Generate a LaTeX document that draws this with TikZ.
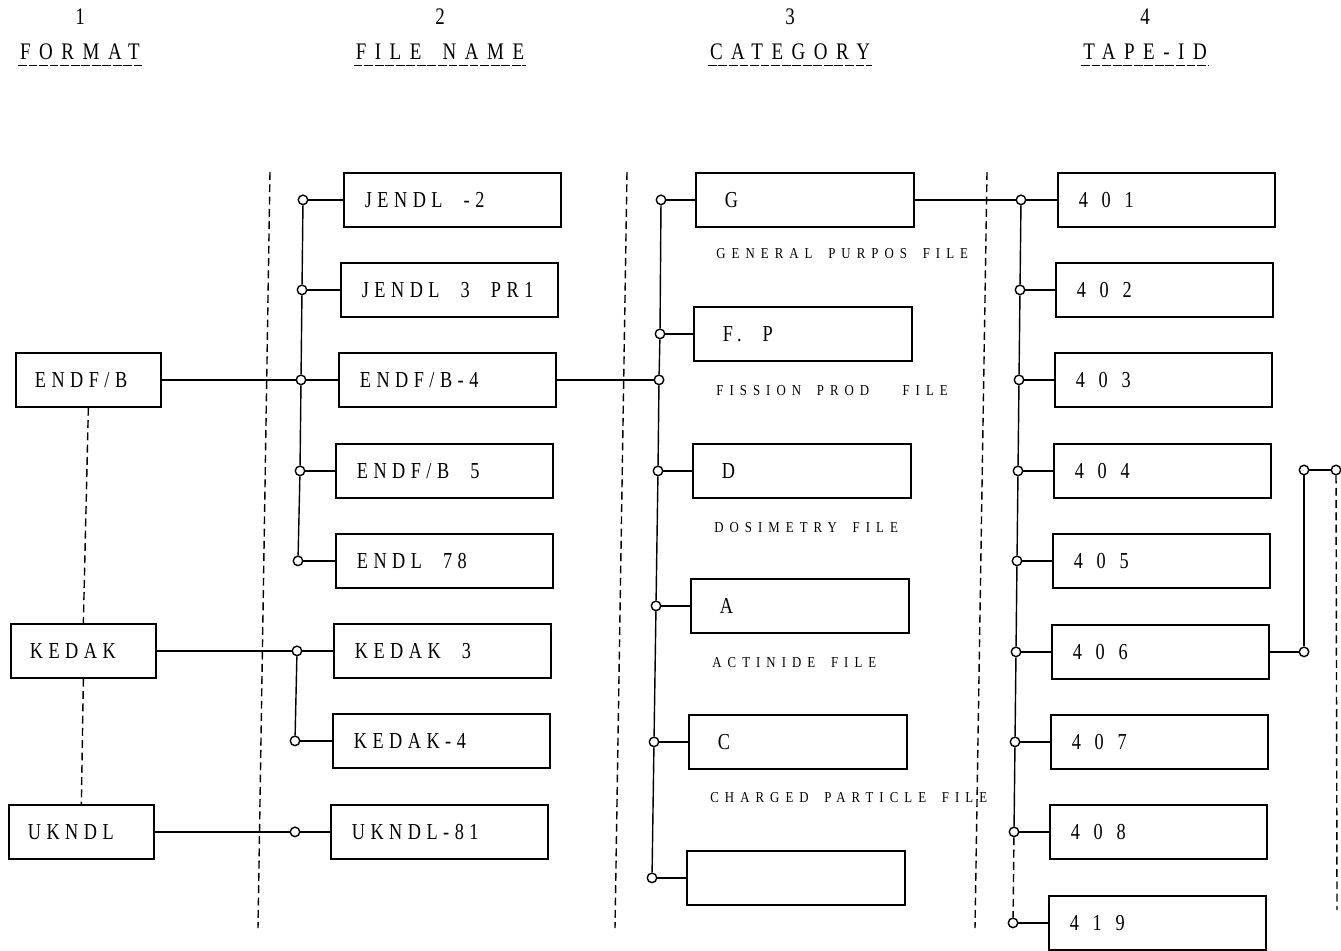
\documentclass[tikz,border=0pt]{standalone}
\usepackage{fontspec}
\setmainfont{Liberation Serif}
\newfontfamily\boxfont[FakeStretch=0.8,LetterSpace=24,WordSpace=2.1]{Liberation Serif}
\newfontfamily\numfont[FakeStretch=0.8,LetterSpace=60]{Liberation Serif}
\newfontfamily\capfont[FakeStretch=0.85,LetterSpace=40,WordSpace=1.7]{Liberation Serif}
\newfontfamily\headfont[FakeStretch=0.8,LetterSpace=36,WordSpace=1.6]{Liberation Serif}
\tikzset{
  fmtbox/.style={draw,line width=1pt,anchor=north west,minimum height=1.08cm,inner xsep=0.38cm,
    execute at begin node={\hbox to 2.14cm\bgroup},execute at end node={\hss\egroup},
    font=\boxfont\fontsize{13}{15}\selectfont},
  namebox/.style={draw,line width=1pt,anchor=north west,minimum height=1.08cm,inner xsep=0.42cm,
    execute at begin node={\hbox to 3.5cm\bgroup},execute at end node={\hss\egroup},
    font=\boxfont\fontsize{13}{15}\selectfont},
  catbox/.style={draw,line width=1pt,anchor=north west,minimum height=1.08cm,inner xsep=0.58cm,
    execute at begin node={\hbox to 3.2cm\bgroup},execute at end node={\hss\egroup},
    font=\boxfont\fontsize{13}{15}\selectfont},
  tapebox/.style={namebox,font=\numfont\fontsize{13}{15}\selectfont},
  catlabel/.style={anchor=west,inner sep=0pt,font=\capfont\fontsize{8.6}{10}\selectfont},
  head/.style={inner sep=1pt,font=\headfont\fontsize{13.5}{15}\selectfont},
  dot/.style={circle,draw,line width=0.8pt,fill=white,inner sep=0pt,minimum size=0.19cm},
  link/.style={line width=0.8pt},
  sepline/.style={line width=0.8pt,dash pattern=on 4.5pt off 2.5pt},
  underl/.style={line width=0.9pt,dash pattern=on 5pt off 1pt}
}
\begin{document}
\begin{tikzpicture}[x=0.02cm,y=-0.02cm]
\useasboundingbox (0,0) rectangle (1341,950);
% column heads
\foreach \n/\x/\t in {1/80/FORMAT,2/440/FILE NAME,3/790/CATEGORY,4/1145/TAPE-ID}{
  \node[head] (k\n) at (\x,17) {\n};
  \node[head] (h\n) at (\x,52) {\t};
  \draw[underl] ([yshift=-2pt]h\n.south west) -- ([yshift=-2pt]h\n.south east);
}
% separators
\draw[sepline] (270,172) -- (258,928);
\draw[sepline] (627,172) -- (615,928);
\draw[sepline] (987,172) -- (975,928);
% format
\node[fmtbox] (f1) at (15,352) {ENDF/B};
\node[fmtbox] (f2) at (10,623) {KEDAK};
\node[fmtbox] (f3) at (8,804) {UKNDL};
\draw[sepline] (f1.south) -- (f2.north);
\draw[sepline] (f2.south) -- (f3.north);
% file names
\node[namebox] (n1) at (343,172) {JENDL -2};
\node[namebox] (n2) at (340,262) {JENDL 3 PR1};
\node[namebox] (n3) at (338,352) {ENDF/B-4};
\node[namebox] (n4) at (335,443) {ENDF/B 5};
\node[namebox] (n5) at (335,533) {ENDL 78};
\node[namebox] (n6) at (333,623) {KEDAK 3};
\node[namebox] (n7) at (332,713) {KEDAK-4};
\node[namebox] (n8) at (330,804) {UKNDL-81};
\foreach \i/\x in {1/303,2/302,3/301,4/300,5/298,6/297,7/295,8/295}{
  \node[dot] (p\i) at (\x,0 |- n\i.west) {};
  \draw[link] (p\i) -- (n\i);
}
\draw[link] (p1) -- (p2) -- (p3) -- (p4) -- (p5);
\draw[link] (p6) -- (p7);
\draw[link] (f1) -- (p3);
\draw[link] (f2) -- (p6);
\draw[link] (f3) -- (p8);
% category
\node[catbox] (c1) at (695,172) {G};
\node[catbox] (c2) at (693,306) {F. P};
\node[catbox] (c3) at (692,443) {D};
\node[catbox] (c4) at (690,578) {A};
\node[catbox] (c5) at (688,714) {C};
\node[catbox] (c6) at (686,850) {};
\node[catlabel] (l1) at (716,254) {GENERAL PURPOS FILE};
\node[catlabel] (l2) at (716,391) {FISSION PROD\hspace{2.2em}FILE};
\node[catlabel] (l3) at (714,528) {DOSIMETRY FILE};
\node[catlabel] (l4) at (712,663) {ACTINIDE FILE};
\node[catlabel] (l5) at (710,798) {CHARGED PARTICLE FILE};
\foreach \i/\x in {1/661,2/660,3/658,4/656,5/654,6/652}{
  \node[dot] (q\i) at (\x,0 |- c\i.west) {};
  \draw[link] (q\i) -- (c\i);
}
\node[dot] (q0) at (659,0 |- n3.east) {};
\draw[link] (q1) -- (q2) -- (q0) -- (q3) -- (q4) -- (q5) -- (q6);
\draw[link] (n3) -- (q0);
% tape-id
\foreach \i/\x/\y/\t in {1/1057/172/401,2/1055/262/402,3/1054/352/403,4/1053/443/404,5/1052/533/405,6/1051/624/406,7/1050/714/407,8/1049/804/408,9/1048/895/419}{
  \node[tapebox] (t\i) at (\x,\y) {\t};
  \node[dot] (r\i) at (1022-\i,0 |- t\i.west) {};
  \draw[link] (r\i) -- (t\i);
}
\draw[link] (r1) -- (r2) -- (r3) -- (r4) -- (r5) -- (r6) -- (r7) -- (r8);
\draw[sepline] (r8) -- (r9);
\draw[link] (c1) -- (r1);
% continuation at the right edge
\node[dot] (s1) at (1304,0 |- t6.east) {};
\node[dot] (s2) at (1304,470) {};
\node[dot] (s3) at (1336,470) {};
\coordinate (s4) at (1337,910);
\draw[link] (t6) -- (s1) -- (s2) -- (s3);
\draw[sepline] (s3) -- (s4);
\end{tikzpicture}
\end{document}
